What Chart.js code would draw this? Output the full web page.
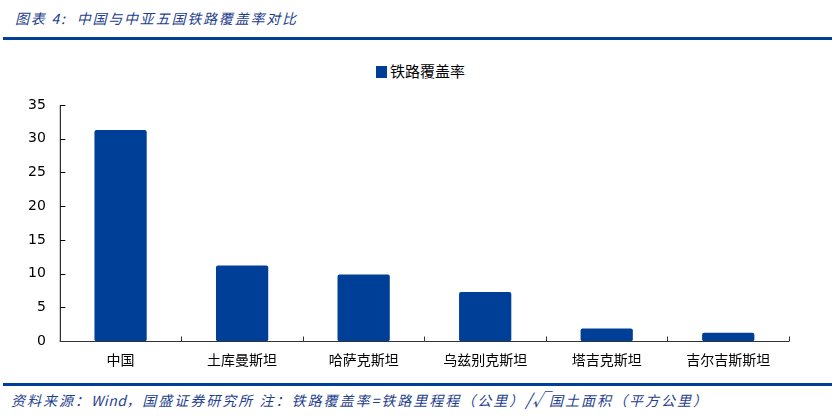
<!DOCTYPE html>
<html lang="zh">
<head>
  <meta charset="UTF-8">
  <title>中国与中亚五国铁路覆盖率对比</title>
  <script src="https://cdn.jsdelivr.net/npm/chart.js"></script>
  <style>
    html, body { margin: 0; padding: 0; background: #fff; }
    #wrap { position: relative; width: 835px; height: 416px; overflow: hidden; }
    #title { position: absolute; left: 15px; top: 8px; font: italic 14px "Noto Sans CJK SC", sans-serif; letter-spacing: 1.8px; color: #1f3f8f; white-space: pre; }
    .rule { position: absolute; left: 3px; width: 829px; height: 3px; background: #003f98; }
    #note { position: absolute; left: 11px; top: 386px; font: italic 14px "Noto Sans CJK SC", sans-serif; letter-spacing: 2px; color: #1f3f8f; white-space: pre; }
    #note b { font-weight: normal; letter-spacing: 0.5px; }
    #note s { text-decoration: none; font-size: 17px; letter-spacing: 0; }
    #legend { position: absolute; left: 376px; top: 60px; font: 15px "Noto Sans CJK SC", sans-serif; color: #000; white-space: pre; }
    #legend i { display: inline-block; width: 11px; height: 12px; background: #003f98; margin-right: 3px; vertical-align: -1px; }
    #chartBox { position: absolute; left: 0; top: 45px; width: 835px; height: 333px; }
  </style>
</head>
<body>
<div id="wrap">
  <div id="title">图表 4:  中国与中亚五国铁路覆盖率对比</div>
  <div class="rule" style="top:37px"></div>
  <div id="legend"></div>
  <div id="chartBox"><canvas id="railChart"></canvas></div>
  <div class="rule" style="top:383px"></div>
  <div id="note">资料来源：<b>Wind</b>，国盛证券研究所 注：铁路覆盖率=铁路里程程（公里）<s>/√</s>国土面积（平方公里）</div>
</div>
<script>
  // 数据
  const countries = ['中国', '土库曼斯坦', '哈萨克斯坦', '乌兹别克斯坦', '塔吉克斯坦', '吉尔吉斯斯坦'];
  const coverage = [31.3, 11.2, 9.9, 7.3, 1.9, 1.25];
  const seriesName = '铁路覆盖率';
  const yTicks = [0, 5, 10, 15, 20, 25, 30, 35];
  const barColor = '#003f98';

  document.getElementById('legend').innerHTML = '<i></i>' + seriesName;

  // 坐标轴及内侧刻度线
  const innerTicks = {
    id: 'innerTicks',
    afterDraw(chart) {
      const { ctx, chartArea, scales } = chart;
      const x = scales.x, y = scales.y;
      const ax = chartArea.left + 0.5;
      const by = Math.round(y.getPixelForValue(0)) + 0.5;
      ctx.save();
      ctx.lineWidth = 1;
      ctx.strokeStyle = '#000';
      ctx.beginPath();
      ctx.moveTo(ax, y.getPixelForValue(35));
      ctx.lineTo(ax, by);
      yTicks.forEach(v => {
        const py = Math.round(y.getPixelForValue(v)) + 0.5;
        ctx.moveTo(ax, py);
        ctx.lineTo(ax + 5, py);
      });
      ctx.stroke();
      ctx.strokeStyle = '#333';
      ctx.beginPath();
      ctx.moveTo(chartArea.left, by);
      ctx.lineTo(chartArea.right, by);
      const step = x.getPixelForValue(1) - x.getPixelForValue(0);
      for (let i = 0; i < countries.length; i++) {
        const px = Math.round(x.getPixelForValue(i) + step / 2) + 0.5;
        ctx.moveTo(px, by);
        ctx.lineTo(px, by - 5);
      }
      ctx.stroke();
      ctx.restore();
    }
  };

  new Chart(document.getElementById('railChart'), {
    type: 'bar',
    data: {
      labels: countries,
      datasets: [{
        label: seriesName,
        data: coverage,
        backgroundColor: barColor,
        borderWidth: 0,
        borderRadius: 2,
        borderSkipped: false,
        categoryPercentage: 0.43,
        barPercentage: 1
      }]
    },
    options: {
      responsive: true,
      maintainAspectRatio: false,
      animation: false,
      layout: { padding: { left: 14, right: 46, top: 60, bottom: 0 } },
      plugins: {
        tooltip: { enabled: false },
        legend: { display: false }
      },
      scales: {
        x: {
          grid: { display: false, drawTicks: false },
          border: { display: false },
          ticks: {
            color: '#000',
            padding: 10,
            font: { family: '"Noto Sans CJK SC", sans-serif', size: 14 }
          }
        },
        y: {
          min: 0,
          max: 35,
          afterBuildTicks(scale) { scale.ticks = yTicks.map(v => ({ value: v })); },
          grid: { display: false, drawTicks: false },
          border: { display: false },
          ticks: {
            color: '#000',
            padding: 14,
            font: { family: '"DejaVu Sans", sans-serif', size: 14 }
          }
        }
      }
    },
    plugins: [innerTicks]
  });
</script>
</body>
</html>
